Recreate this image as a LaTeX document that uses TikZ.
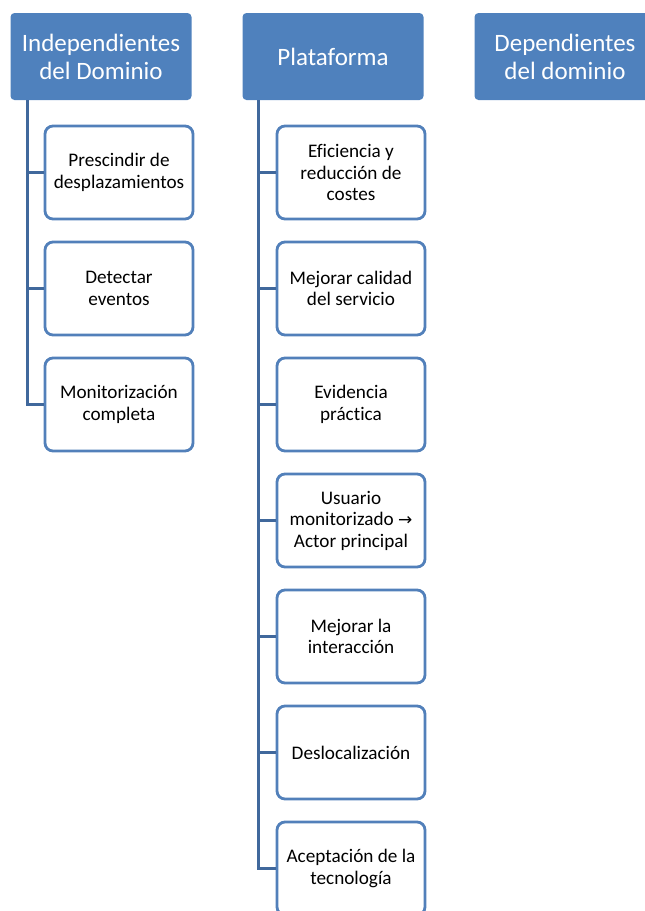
\documentclass[tikz,border=0pt]{standalone}
\usepackage{fontspec}
\setmainfont[Ligatures=NoCommon]{Carlito}
\newfontfamily\arrowfont{DejaVu Sans}
\begin{document}
\begin{tikzpicture}[x=1pt,y=-1pt,
  header/.style={fill=hdrblue, draw=none, rounded corners=4pt,
    minimum width=181pt, minimum height=87pt, inner sep=0pt,
    text=white, align=center, font=\fontsize{25}{28}\selectfont},
  item/.style={fill=white, draw=itemblue, line width=2.8pt, rounded corners=8pt,
    minimum width=148pt, minimum height=93pt, inner sep=0pt,
    text=black, align=center, font=\fontsize{19.2}{21.5}\selectfont},
  conn/.style={draw=linkblue, line width=3pt}]
\definecolor{hdrblue}{RGB}{79,129,189}
\definecolor{itemblue}{RGB}{82,128,186}
\definecolor{linkblue}{RGB}{64,104,156}
\useasboundingbox (0,0) rectangle (645,911);
\begin{scope}
\clip (0,0) rectangle (645,911);

% column headers
\node[header] (h1) at (101,56.5) {Independientes\\del Dominio};
\node[header] (h2) at (333,56.5) {Plataforma};
\node[header] (h3) at (565,56.5) {Dependientes\\del dominio};

% trunk start points under the headers
\coordinate (t1) at (27,100);
\coordinate (t2) at (258,100);

% first column
\node[item] (a1) at (119,172.5) {Prescindir de\\desplazamientos};
\node[item] (a2) at (119,288.5) {Detectar\\eventos};
\node[item] (a3) at (119,404.5) {Monitorización\\completa};

% second column
\node[item] (b1) at (351,172.5) {Eficiencia y\\reducción de\\costes};
\node[item] (b2) at (351,288.5) {Mejorar calidad\\del servicio};
\node[item] (b3) at (351,404.5) {Evidencia\\práctica};
\node[item] (b4) at (351,520.5) {Usuario\\monitorizado {\arrowfont\fontsize{17}{17}\selectfont →}\\Actor principal};
\node[item] (b5) at (351,636.5) {Mejorar la\\interacción};
\node[item] (b6) at (351,752.5) {Deslocalización};
\node[item] (b7) at (351,868.5) {Aceptación de la\\tecnología};

% connectors
\foreach \c in {a1,a2,a3} \draw[conn] (t1) |- (\c.west);
\foreach \c in {b1,b2,b3,b4,b5,b6,b7} \draw[conn] (t2) |- (\c.west);
\end{scope}
\end{tikzpicture}
\end{document}
